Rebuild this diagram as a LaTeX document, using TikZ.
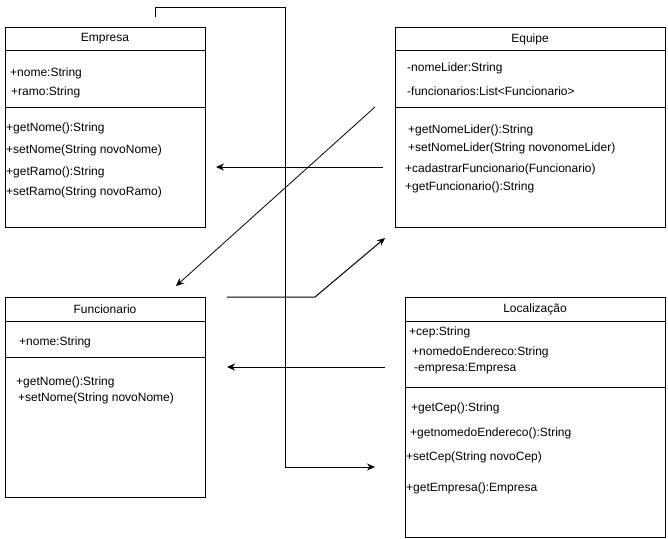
\documentclass[tikz,border=0pt]{standalone}
\usepackage{fontspec}
\setmainfont{Liberation Sans}
\usetikzlibrary{arrows.meta}
\begin{document}
\begin{tikzpicture}[x=1pt,y=-1pt,
  classbox/.style={draw, line width=1pt, inner sep=0pt, fill=white},
  sep/.style={line width=1pt},
  title/.style={inner sep=0pt, font=\fontsize{12}{14}\selectfont},
  member/.style={anchor=base west, inner sep=0pt, font=\fontsize{12}{14}\selectfont},
  conn/.style={line width=1pt, -{Stealth[length=8pt,width=7pt,inset=2.5pt]}},
  plain/.style={line width=1pt}]
\useasboundingbox (0,0) rectangle (668,538);

% ---- Empresa ----
\node[classbox, minimum width=200pt, minimum height=200pt] (empresa) at (105,127) {};
\draw[sep] (5,50) -- (205,50);
\draw[sep] (5,107) -- (205,107);
\node[title] (empresaT) at (105,39) {Empresa};
\node[member] (e1) at (10,76.3) {+nome:String};
\node[member] (e2) at (11,95.3) {+ramo:String};
\node[member] (e3) at (6,131.3) {+getNome():String};
\node[member] (e4) at (6,153.3) {+setNome(String novoNome)};
\node[member] (e5) at (6,175.3) {+getRamo():String};
\node[member] (e6) at (6,195.3) {+setRamo(String novoRamo)};

% ---- Equipe ----
\node[classbox, minimum width=270pt, minimum height=200pt] (equipe) at (530,127) {};
\draw[sep] (395,50) -- (665,50);
\draw[sep] (395,107) -- (665,107);
\node[title] (equipeT) at (530,39) {Equipe};
\node[member] (q1) at (407,71.3) {-nomeLider:String};
\node[member] (q2) at (407,95.3) {-funcionarios:List<Funcionario>};
\node[member] (q3) at (408,133.3) {+getNomeLider():String};
\node[member] (q4) at (408,151.3) {+setNomeLider(String novonomeLider)};
\node[member] (q5) at (405,172.3) {+cadastrarFuncionario(Funcionario)};
\node[member] (q6) at (405,190.3) {+getFuncionario():String};

% ---- Funcionario ----
\node[classbox, minimum width=200pt, minimum height=200pt] (func) at (105,397) {};
\draw[sep] (5,321) -- (205,321);
\draw[sep] (5,357) -- (205,357);
\node[title] (funcT) at (105,309) {Funcionario};
\node[member] (f1) at (19,345.3) {+nome:String};
\node[member] (f2) at (16,385.3) {+getNome():String};
\node[member] (f3) at (18,401.3) {+setNome(String novoNome)};

% ---- Localização ----
\node[classbox, minimum width=260pt, minimum height=240pt] (local) at (535,417) {};
\draw[sep] (405,321) -- (665,321);
\draw[sep] (405,387) -- (665,387);
\node[title] (localT) at (535,309) {Localização};
\node[member] (l1) at (409,335.3) {+cep:String};
\node[member] (l2) at (412,355.3) {+nomedoEndereco:String};
\node[member] (l3) at (414,371.3) {-empresa:Empresa};
\node[member] (l4) at (411,411.3) {+getCep():String};
\node[member] (l5) at (410,436.3) {+getnomedoEndereco():String};
\node[member] (l6) at (406,460.3) {+setCep(String novoCep)};
\node[member] (l7) at (406,491.3) {+getEmpresa():Empresa};

% ---- connector end points ----
\coordinate (aS) at (155,17);
\coordinate (aTop) at (285,7);
\coordinate (aE) at (375,467);
\coordinate (bS) at (375,107);
\coordinate (bE) at (176,286);
\coordinate (cS) at (383,167);
\coordinate (cE) at (216,167);
\coordinate (dS) at (227,297);
\coordinate (dK) at (315,297);
\coordinate (dE) at (385,238);
\coordinate (eS) at (385,367);
\coordinate (eE) at (227,367);

% ---- connectors ----
\draw[conn] (aS) |- (aTop) |- (aE);
\draw[conn, line width=0.8pt] (bS) -- (bE);
\draw[conn] (cS) -- (cE);
\draw[conn] (dS) -- (dK) -- (dE);
\draw[conn] (eS) -- (eE);
\end{tikzpicture}
\end{document}
